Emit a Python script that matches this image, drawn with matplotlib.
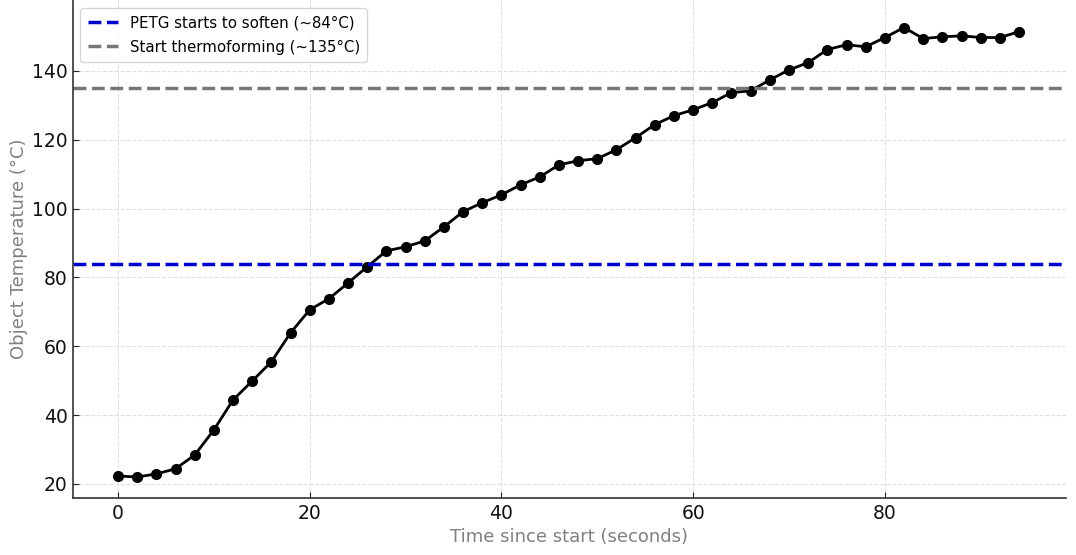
import matplotlib
matplotlib.use("Agg")
import matplotlib.pyplot as plt

time_s = [0, 2, 4, 6, 8, 10, 12, 14, 16, 18, 20, 22, 24, 26, 28, 30, 32, 34, 36, 38,
          40, 42, 44, 46, 48, 50, 52, 54, 56, 58, 60, 62, 64, 66, 68, 70, 72, 74, 76, 78,
          80, 82, 84, 86, 88, 90, 92, 94]
temp_c = [22.3, 22.0, 22.9, 24.4, 28.4, 35.7, 44.4, 49.9, 55.5, 63.9, 70.6, 73.8, 78.4, 83.1,
          87.7, 88.9, 90.6, 94.7, 99.1, 101.7, 104.0, 106.9, 109.2, 112.7, 113.9, 114.5, 117.1,
          120.6, 124.4, 127.0, 128.7, 130.8, 133.7, 134.2, 137.4, 140.3, 142.4, 146.2, 147.6,
          147.0, 149.7, 152.6, 149.4, 149.9, 150.2, 149.7, 149.7, 151.4]
soften_temp = 84
soften_label = "PETG starts to soften (~84°C)"
thermo_temp = 135
thermo_label = "Start thermoforming (~135°C)"
xlabel = "Time since start (seconds)"
ylabel = "Object Temperature (°C)"

plt.rcParams['font.family'] = ['DejaVu Sans']
fig = plt.figure(figsize=(10.76, 5.55), dpi=100)
ax = fig.add_axes([73/1076, 57/555, (1066-73)/1076, (555-57+8)/555])

ax.plot(time_s, temp_c, color='black', linewidth=2, marker='o', markersize=7)
ax.axhline(soften_temp, color='#0000cc', linestyle='--', linewidth=2.5, label=soften_label)
ax.axhline(thermo_temp, color='#777777', linestyle='--', linewidth=2.5, label=thermo_label)

ax.set_xlim(-4.7, 98.9)
ax.set_ylim(15.9, 160.6 + 8/3.44)
ax.set_xticks([0, 20, 40, 60, 80])
ax.set_yticks([20, 40, 60, 80, 100, 120, 140])

ax.grid(True, linestyle='--', color='#e0e0e0', linewidth=0.8)
ax.set_axisbelow(True)
for s in ['top', 'right']:
    ax.spines[s].set_visible(False)
for s in ['left', 'bottom']:
    ax.spines[s].set_color('#333333')
    ax.spines[s].set_linewidth(1.2)
ax.tick_params(direction='in', length=4, labelsize=13.5, colors='#222222', labelcolor='#111111')
ax.tick_params(axis='x', pad=4)
ax.tick_params(axis='y', pad=4)

ax.set_xlabel(xlabel, fontsize=13, color='#808080', labelpad=4)
ax.set_ylabel(ylabel, fontsize=13, color='#808080')
ax.yaxis.set_label_coords(-45/993, 0.5 - 4/506)

leg = ax.legend(loc='upper left', fontsize=10.8, frameon=True, fancybox=True,
                bbox_to_anchor=(7/993, 1 - 16/506), borderaxespad=0,
                handlelength=2.0, borderpad=0.5, labelspacing=0.6)
leg.get_frame().set_edgecolor('#cccccc')

fig.savefig("out.png", dpi=100)
